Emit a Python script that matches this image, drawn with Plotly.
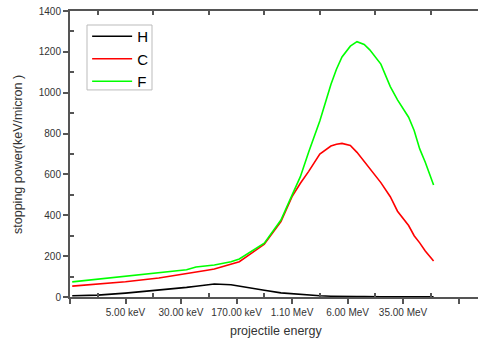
import plotly.graph_objects as go

# Shared x positions (position along the category-like energy axis)
energy_pos = [0.04, 0.5, 1.0, 1.6, 2.1, 2.27, 2.47, 2.6, 2.9, 3.05, 3.5, 3.8, 4.0, 4.15, 4.3,
              4.5, 4.7, 4.8, 4.9, 5.05, 5.17, 5.3, 5.4, 5.6, 5.77, 5.9, 6.1, 6.2, 6.3, 6.4, 6.55]

H_vals = [6, 9, 19, 33, 47, 53, 60, 64, 60, 54, 33, 20, 15, 12, 9,
          6, 4, 3, 3, 2, 2, 2, 1, 1, 1, 1, 1, 1, 1, 1, 1]
C_vals = [53, 62, 75, 93, 113, 120, 131, 137, 160, 173, 258, 369, 491, 557, 615,
          700, 739, 748, 752, 742, 708, 662, 630, 560, 491, 420, 350, 300, 265, 225, 176]
F_vals = [74, 87, 102, 119, 133, 147, 152, 157, 173, 186, 263, 377, 499, 589, 710,
          862, 1040, 1115, 1175, 1228, 1250, 1236, 1210, 1140, 1030, 965, 880, 815, 725, 660, 548]

tick_positions = [0, 1, 2, 3, 4, 5, 6, 7]
tick_labels = ["", "5.00 keV", "30.00 keV", "170.00 keV", "1.10 MeV", "6.00 MeV", "35.00 MeV", ""]
minor_positions = [0.5, 1.5, 2.5, 3.5, 4.5, 5.5, 6.5]

series = [("H", H_vals, "#000000"), ("C", C_vals, "#ff0000"), ("F", F_vals, "#00ff00")]

FONT = "Liberation Sans, Arial, sans-serif"
AX = "#555555"

fig = go.Figure()
for name, vals, col in series:
    fig.add_trace(go.Scatter(x=energy_pos, y=vals, mode="lines", name=name,
                             line=dict(color=col, width=1.6)))
# helper axis for top-frame ticks
fig.add_trace(go.Scatter(x=[None], y=[None], xaxis="x2", showlegend=False, hoverinfo="skip"))

fig.update_layout(
    width=478, height=341,
    margin=dict(l=70, r=0, t=11, b=44),
    paper_bgcolor="white", plot_bgcolor="white",
    font=dict(family=FONT, color="#333333", size=10),
    showlegend=True,
    legend=dict(x=0.042, y=0.9685, xanchor="left", yanchor="top",
                borderwidth=0, bgcolor="rgba(0,0,0,0)",
                font=dict(size=15, color="#000000", family=FONT),
                itemwidth=40, tracegroupgap=0),
    shapes=[dict(type="rect", xref="paper", yref="paper", x0=0.0417, x1=0.201, y0=0.724, y1=0.951,
                 line=dict(color="#bbbbbb", width=1), fillcolor="white", layer="below")],
    xaxis=dict(range=[0, 7.35], tickmode="array", tickvals=tick_positions, ticktext=tick_labels,
               ticks="outside", ticklen=5, tickwidth=1.5, tickcolor=AX,
               showline=True, linecolor=AX, linewidth=2, mirror=True,
               showgrid=False, zeroline=False,
               minor=dict(tickmode="array", tickvals=minor_positions, ticks="inside",
                          ticklen=4, tickwidth=1.5, tickcolor=AX, showgrid=False),
               tickfont=dict(size=10, color="#333333")),
    xaxis2=dict(range=[0, 7.35], overlaying="x", side="top", anchor="y",
                tickmode="array", tickvals=minor_positions, ticktext=[""] * len(minor_positions),
                ticks="inside", ticklen=4, tickwidth=1.5, tickcolor=AX,
                showline=False, showgrid=False, zeroline=False, showticklabels=False),
    yaxis=dict(range=[0, 1400], tickmode="array", tickvals=[0, 200, 400, 600, 800, 1000, 1200, 1400],
               ticks="outside", ticklen=5, tickwidth=1.5, tickcolor=AX,
               showline=True, linecolor=AX, linewidth=2,
               showgrid=False, zeroline=False,
               minor=dict(tickmode="array", tickvals=[100, 300, 500, 700, 900, 1100, 1300],
                          ticks="inside", ticklen=4, tickwidth=1.5, tickcolor=AX, showgrid=False),
               tickfont=dict(size=10, color="#333333")),
    annotations=[
        dict(text="projectile energy", xref="paper", yref="paper", x=0.505, y=-0.118,
             xanchor="center", yanchor="middle", showarrow=False,
             font=dict(size=12.5, color="#333333", family=FONT)),
        dict(text="stopping power(keV/micron )", xref="paper", yref="paper", x=-0.1275, y=0.5,
             xanchor="center", yanchor="middle", textangle=-90, showarrow=False,
             font=dict(size=12.5, color="#333333", family=FONT)),
    ],
)

fig.write_html("out.html", config={"displayModeBar": False},
               post_script="document.body.style.margin='0px';document.body.style.overflow='hidden';")
